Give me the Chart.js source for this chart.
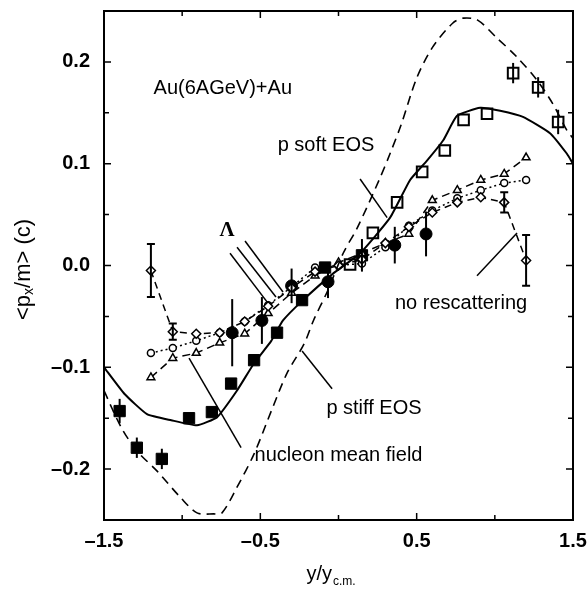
<!DOCTYPE html>
<html>
<head>
<meta charset="utf-8">
<script src="https://cdn.jsdelivr.net/npm/chart.js@4.4.0/dist/chart.umd.min.js"></script>
<style>
  html, body { margin: 0; padding: 0; background: #fff; }
</style>
</head>
<body>
<canvas id="myChart" width="588" height="590"></canvas>
<script>
// p stiff EOS (dashed curve)
const stiffX = [-1.5, -1.39, -1.29, -1.16, -1.01, -0.905, -0.8, -0.745, -0.65, -0.54, -0.43, -0.33, -0.22, -0.16, -0.07, 0.03, 0.12, 0.26, 0.33, 0.4, 0.5, 0.6, 0.73, 0.8, 0.89, 1.01, 1.14, 1.27, 1.37, 1.46, 1.5];
const stiffY = [-0.123, -0.159, -0.182, -0.202, -0.228, -0.243, -0.244, -0.243, -0.218, -0.185, -0.143, -0.106, -0.077, -0.054, -0.025, 0.012, 0.037, 0.084, 0.11, 0.138, 0.184, 0.214, 0.238, 0.243, 0.241, 0.224, 0.205, 0.182, 0.159, 0.133, 0.125];

// p soft EOS (solid curve)
const softX = [-1.5, -1.37, -1.225, -1.07, -0.905, -0.777, -0.65, -0.54, -0.43, -0.355, -0.227, -0.035, 0.138, 0.33, 0.458, 0.566, 0.67, 0.758, 0.906, 1.034, 1.18, 1.353, 1.46, 1.5];
const softY = [-0.1, -0.126, -0.146, -0.152, -0.157, -0.149, -0.123, -0.096, -0.074, -0.054, -0.034, -0.008, 0.012, 0.047, 0.084, 0.103, 0.123, 0.147, 0.155, 0.152, 0.146, 0.13, 0.11, 0.1];

// Lambda: three model curves
const modelX = [-1.2, -1.06, -0.91, -0.76, -0.6, -0.45, -0.3, -0.15, 0, 0.15, 0.3, 0.45, 0.6, 0.76, 0.91, 1.06, 1.2];
const noRescY   = [-0.005, -0.065, -0.067, -0.066, -0.055, -0.04, -0.022, -0.006, 0, 0.006, 0.022, 0.038, 0.052, 0.062, 0.067, 0.062, 0.005];
const noRescErr = [0.026, 0.008, 0, 0, 0, 0, 0, 0, 0, 0, 0, 0, 0, 0, 0, 0.01, 0.025];
const triY      = [-0.11, -0.091, -0.086, -0.076, -0.067, -0.047, -0.027, -0.01, 0.003, 0.012, 0.022, 0.031, 0.064, 0.074, 0.084, 0.09, 0.106];
const circY     = [-0.086, -0.081, -0.074, -0.066, -0.055, -0.039, -0.021, -0.002, 0, 0.002, 0.018, 0.039, 0.054, 0.066, 0.074, 0.081, 0.084];

// proton data, measured (filled) and reflected (open)
const nuclX   = [-1.4, -1.29, -1.13, -0.956, -0.81, -0.687, -0.54, -0.393, -0.233, -0.086, 0.15];
const nuclY   = [-0.143, -0.179, -0.19, -0.15, -0.144, -0.116, -0.093, -0.066, -0.034, -0.002, 0.01];
const nuclErr = [0.012, 0.01, 0.01, 0, 0, 0, 0, 0, 0, 0, 0.016];
const openX   = [0.074, 0.22, 0.375, 0.535, 0.68, 0.8, 0.95, 1.117, 1.277, 1.405];
const openY   = [0.001, 0.032, 0.062, 0.092, 0.113, 0.143, 0.149, 0.189, 0.175, 0.141];
const openErr = [0, 0, 0, 0, 0, 0, 0, 0.01, 0.01, 0.012];

// Lambda data
const lamX   = [-0.68, -0.49, -0.3, -0.067, 0.36, 0.56];
const lamY   = [-0.066, -0.054, -0.02, -0.016, 0.02, 0.031];
const lamErr = [0.033, 0.023, 0.017, 0.016, 0.018, 0.022];

// ticks
const xTickVals = [-1.5, -0.5, 0.5, 1.5];
const xTickLabels = ['–1.5', '–0.5', '0.5', '1.5'];
const xMinor = [-1, 0, 1];
const yTickVals = [-0.2, -0.1, 0, 0.1, 0.2];
const yTickLabels = ['–0.2', '–0.1', '0.0', '0.1', '0.2'];
const yMinor = [-0.15, -0.05, 0.05, 0.15];

// labels and their pointer lines (data units)
const notes = [
  { text: 'Au(6AGeV)+Au', x: -0.74, y: 0.174 },
  { text: 'p soft EOS', x: -0.08, y: 0.118 },
  { text: 'Λ', x: -0.713, y: 0.034, serif: true },
  { text: 'no rescattering', x: 0.784, y: -0.037 },
  { text: 'p stiff EOS', x: 0.227, y: -0.14 },
  { text: 'nucleon mean field', x: 0.0, y: -0.187 }
];
const pointers = [
  [[-0.694, 0.012], [-0.451, -0.037]],
  [[-0.649, 0.018], [-0.4, -0.031]],
  [[-0.598, 0.024], [-0.355, -0.026]],
  [[0.138, 0.085], [0.311, 0.047]],
  [[-0.233, -0.084], [-0.041, -0.121]],
  [[-0.956, -0.091], [-0.623, -0.179]],
  [[0.886, -0.01], [1.142, 0.032]]
];

const pts = (xs, ys) => xs.map((v, i) => ({ x: v, y: ys[i] }));
const FONT = "'Liberation Sans', Arial, sans-serif";

const datasets = [
  { data: pts(stiffX, stiffY), showLine: true, borderColor: '#000', borderWidth: 1.6, borderDash: [9, 6], pointRadius: 0, tension: 0.3 },
  { data: pts(softX, softY), showLine: true, borderColor: '#000', borderWidth: 2, pointRadius: 0, tension: 0.15 },
  { data: pts(modelX, noRescY), yErr: noRescErr, cap: 4, showLine: true, borderColor: '#000', borderWidth: 1.5, borderDash: [7, 5],
    pointStyle: 'rectRot', pointRadius: 4.5, pointBorderWidth: 1.5, pointBackgroundColor: '#fff', pointBorderColor: '#000' },
  { data: pts(modelX, triY), showLine: true, borderColor: '#000', borderWidth: 1.5, borderDash: [8, 5],
    pointStyle: 'triangle', pointRadius: 4.5, pointBorderWidth: 1.5, pointBackgroundColor: '#fff', pointBorderColor: '#000' },
  { data: pts(modelX, circY), showLine: true, borderColor: '#000', borderWidth: 1.5, borderDash: [2, 3],
    pointStyle: 'circle', pointRadius: 3.5, pointBorderWidth: 1.5, pointBackgroundColor: '#fff', pointBorderColor: '#000' },
  { data: pts(nuclX, nuclY), yErr: nuclErr, showLine: false, pointStyle: 'rect', pointRadius: 8,
    pointBackgroundColor: '#000', pointBorderColor: '#000', pointBorderWidth: 1 },
  { data: pts(openX, openY), yErr: openErr, showLine: false, pointStyle: 'rect', pointRadius: 7.5,
    pointBackgroundColor: '#fff', pointBorderColor: '#000', pointBorderWidth: 2 },
  { data: pts(lamX, lamY), yErr: lamErr, showLine: false, pointStyle: 'circle', pointRadius: 6,
    pointBackgroundColor: '#000', pointBorderColor: '#000', pointBorderWidth: 1 }
];
pointers.forEach(p => {
  datasets.push({ data: p.map(q => ({ x: q[0], y: q[1] })), showLine: true, borderColor: '#000', borderWidth: 1.5, pointRadius: 0 });
});

// vertical error bars
const errorBars = {
  id: 'errorBars',
  afterDatasetsDraw(chart) {
    const { ctx, scales: { x, y } } = chart;
    ctx.save();
    ctx.strokeStyle = '#000';
    ctx.lineWidth = 2;
    chart.data.datasets.forEach(ds => {
      if (!ds.yErr) return;
      ds.data.forEach((p, i) => {
        const e = ds.yErr[i];
        if (!e) return;
        const px = x.getPixelForValue(p.x);
        const y1 = y.getPixelForValue(p.y + e), y2 = y.getPixelForValue(p.y - e);
        ctx.beginPath();
        ctx.moveTo(px, y1); ctx.lineTo(px, y2);
        if (ds.cap) {
          ctx.moveTo(px - ds.cap, y1); ctx.lineTo(px + ds.cap, y1);
          ctx.moveTo(px - ds.cap, y2); ctx.lineTo(px + ds.cap, y2);
        }
        ctx.stroke();
      });
    });
    ctx.restore();
  }
};

// box, inner ticks, notes and axis titles
const decor = {
  id: 'decor',
  afterDraw(chart) {
    const { ctx, chartArea: a, scales: { x, y } } = chart;
    ctx.save();
    ctx.strokeStyle = '#000';
    ctx.lineWidth = 2;
    ctx.strokeRect(a.left, a.top, a.right - a.left, a.bottom - a.top);
    ctx.lineWidth = 1.5;
    ctx.beginPath();
    const xt = (v, len) => {
      const px = x.getPixelForValue(v);
      ctx.moveTo(px, a.bottom); ctx.lineTo(px, a.bottom - len);
      ctx.moveTo(px, a.top); ctx.lineTo(px, a.top + len);
    };
    const yt = (v, len) => {
      const py = y.getPixelForValue(v);
      ctx.moveTo(a.left, py); ctx.lineTo(a.left + len, py);
      ctx.moveTo(a.right, py); ctx.lineTo(a.right - len, py);
    };
    xTickVals.forEach(v => xt(v, 7));
    xMinor.forEach(v => xt(v, 5));
    yTickVals.forEach(v => yt(v, 7));
    yMinor.forEach(v => yt(v, 5));
    ctx.stroke();

    ctx.fillStyle = '#000';
    ctx.textAlign = 'center';
    ctx.textBaseline = 'middle';
    notes.forEach(n => {
      ctx.font = n.serif ? "bold 21px 'Liberation Serif', serif" : '20px ' + FONT;
      ctx.fillText(n.text, x.getPixelForValue(n.x), y.getPixelForValue(n.y));
    });

    // x title: y/y with subscript c.m.
    ctx.textAlign = 'left';
    ctx.textBaseline = 'alphabetic';
    ctx.font = '20px ' + FONT;
    const main = 'y/y';
    const w1 = ctx.measureText(main).width;
    ctx.font = '12px ' + FONT;
    const w2 = ctx.measureText('c.m.').width;
    let sx = (a.left + a.right) / 2 - (w1 + w2) / 2 - 8;
    ctx.font = '20px ' + FONT;
    ctx.fillText(main, sx, 580);
    ctx.font = '12px ' + FONT;
    ctx.fillText('c.m.', sx + w1 + 1, 585);

    // y title: <p_x/m> (c), rotated
    ctx.translate(24, (a.top + a.bottom) / 2);
    ctx.rotate(-Math.PI / 2);
    const parts = [['<p', 22, 0], ['x', 14, 5], ['/m> (c)', 22, 0]];
    let tot = 0;
    parts.forEach(p => { ctx.font = p[1] + 'px ' + FONT; tot += ctx.measureText(p[0]).width; });
    let cx = -tot / 2 - 4;
    ctx.textBaseline = 'middle';
    parts.forEach(p => {
      ctx.font = p[1] + 'px ' + FONT;
      ctx.fillText(p[0], cx, p[2]);
      cx += ctx.measureText(p[0]).width;
    });
    ctx.restore();
  }
};

const ctx = document.getElementById('myChart').getContext('2d');
const myChart = new Chart(ctx, {
  type: 'scatter',
  data: { datasets: datasets },
  options: {
    responsive: false,
    animation: false,
    layout: { padding: { top: 11, right: 15, left: 0, bottom: 0 } },
    plugins: { legend: { display: false }, tooltip: { enabled: false } },
    scales: {
      x: {
        type: 'linear', min: -1.5, max: 1.5,
        afterBuildTicks: s => { s.ticks = xTickVals.map(v => ({ value: v })); },
        afterFit: s => { s.height = 70; s.paddingLeft = 0; s.paddingRight = 0; },
        ticks: {
          callback: (v) => xTickLabels[xTickVals.indexOf(v)],
          font: { family: FONT, size: 20, weight: 'bold' }, color: '#000', padding: 9, maxRotation: 0
        },
        grid: { display: false, drawTicks: false },
        border: { display: false }
      },
      y: {
        type: 'linear', min: -0.25, max: 0.25,
        afterBuildTicks: s => { s.ticks = yTickVals.map(v => ({ value: v })); },
        afterFit: s => { s.width = 104; s.paddingTop = 0; s.paddingBottom = 0; },
        ticks: {
          callback: (v) => yTickLabels[yTickVals.findIndex(t => Math.abs(t - v) < 1e-9)],
          font: { family: FONT, size: 20, weight: 'bold' }, color: '#000', padding: 14
        },
        grid: { display: false, drawTicks: false },
        border: { display: false }
      }
    }
  },
  plugins: [errorBars, decor]
});
</script>
</body>
</html>
